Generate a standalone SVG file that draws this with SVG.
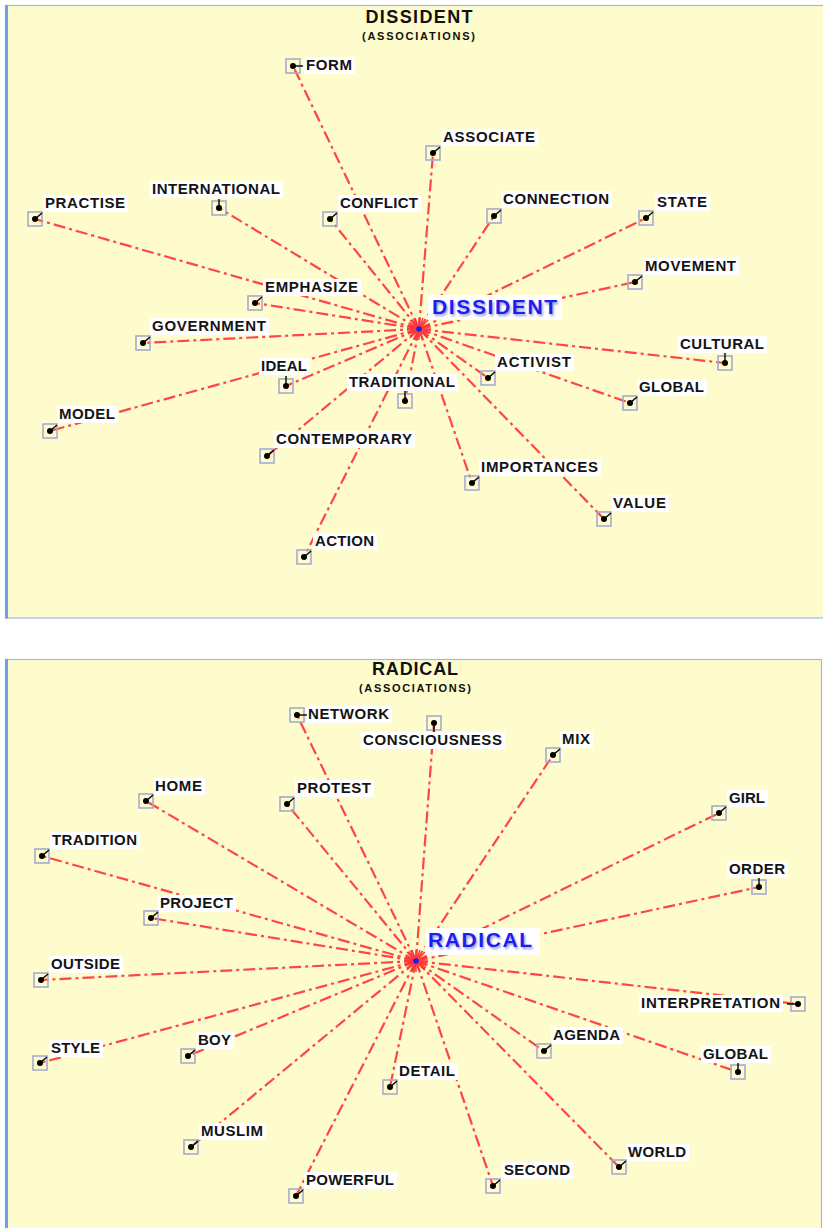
<svg xmlns="http://www.w3.org/2000/svg" width="823" height="1228" viewBox="0 0 823 1228">
<defs>
<style>
.panel{fill:#fefccc;stroke:#9dbbec;stroke-width:1.2}
.edge{stroke:#6f9fe6;stroke-width:3}
.ttl{font-family:"Liberation Sans",Arial,sans-serif;font-weight:bold;fill:#111;text-anchor:middle}
.lb{fill:#ffffff}
.tx{font-family:"Liberation Sans",Arial,sans-serif;font-weight:bold;font-size:15px;fill:#141414}
.sq{fill:none;stroke:#a4aad2;stroke-width:1.6}
.tk{stroke:#000;stroke-width:1.4}
.dt{fill:#000}
.cn line{stroke:#ff4545;stroke-width:2.2;stroke-dasharray:12 4 3 4;fill:none}
.ctx{font-family:"Liberation Sans",Arial,sans-serif;font-weight:bold;font-size:21px;fill:#1d1df2}
.csh{font-family:"Liberation Sans",Arial,sans-serif;font-weight:bold;font-size:21px;fill:#9aa0d8}
.spk line{stroke:#ff3030;stroke-width:1.4}
</style>
<filter id="bl" x="-10%" y="-30%" width="120%" height="160%"><feGaussianBlur stdDeviation="1.2"/></filter>
</defs>

<rect x="0" y="0" width="823" height="1228" fill="#ffffff"/>
<!-- panels -->
<rect class="panel" x="5.5" y="5.5" width="830" height="612.5"/>
<line class="edge" x1="6.5" y1="5" x2="6.5" y2="618.5"/>
<rect class="panel" x="5.5" y="659.5" width="816" height="580"/>
<line class="edge" x1="6.5" y1="659" x2="6.5" y2="1228"/>

<!-- titles -->
<g id="title-dissident">
<text class="ttl" x="419" y="23" font-size="18" textLength="107" lengthAdjust="spacing">DISSIDENT</text>
<text class="ttl" x="418.5" y="40" font-size="11" textLength="113" lengthAdjust="spacing">(ASSOCIATIONS)</text>
</g>
<g id="title-radical">
<text class="ttl" x="415" y="675" font-size="18" textLength="86" lengthAdjust="spacing">RADICAL</text>
<text class="ttl" x="415" y="692" font-size="11" textLength="112" lengthAdjust="spacing">(ASSOCIATIONS)</text>
</g>

<!-- connectors top -->
<g id="connectors-dissident" class="cn">
<line x1="419" y1="329" x2="293" y2="66"/>
<line x1="419" y1="329" x2="35" y2="219"/>
<line x1="419" y1="329" x2="219" y2="208"/>
<line x1="419" y1="329" x2="330" y2="219"/>
<line x1="419" y1="329" x2="255" y2="303"/>
<line x1="419" y1="329" x2="433" y2="153"/>
<line x1="419" y1="329" x2="494" y2="216"/>
<line x1="419" y1="329" x2="646" y2="218"/>
<line x1="419" y1="329" x2="635" y2="282"/>
<line x1="419" y1="329" x2="143" y2="343"/>
<line x1="419" y1="329" x2="286" y2="386"/>
<line x1="419" y1="329" x2="50" y2="431"/>
<line x1="419" y1="329" x2="405" y2="401"/>
<line x1="419" y1="329" x2="267" y2="456"/>
<line x1="419" y1="329" x2="304" y2="557"/>
<line x1="419" y1="329" x2="725" y2="363"/>
<line x1="419" y1="329" x2="488" y2="378"/>
<line x1="419" y1="329" x2="630" y2="403"/>
<line x1="419" y1="329" x2="472" y2="483"/>
<line x1="419" y1="329" x2="604" y2="519"/>
</g>

<!-- connectors bottom -->
<g id="connectors-radical" class="cn">
<line x1="416" y1="961" x2="297" y2="715"/>
<line x1="416" y1="961" x2="434" y2="723"/>
<line x1="416" y1="961" x2="146" y2="801"/>
<line x1="416" y1="961" x2="287" y2="804"/>
<line x1="416" y1="961" x2="42" y2="856"/>
<line x1="416" y1="961" x2="151" y2="918"/>
<line x1="416" y1="961" x2="553" y2="755"/>
<line x1="416" y1="961" x2="719" y2="813"/>
<line x1="416" y1="961" x2="759" y2="887"/>
<line x1="416" y1="961" x2="41" y2="980"/>
<line x1="416" y1="961" x2="40" y2="1063"/>
<line x1="416" y1="961" x2="188" y2="1056"/>
<line x1="416" y1="961" x2="191" y2="1147"/>
<line x1="416" y1="961" x2="296" y2="1196"/>
<line x1="416" y1="961" x2="390" y2="1087"/>
<line x1="416" y1="961" x2="798" y2="1004"/>
<line x1="416" y1="961" x2="544" y2="1051"/>
<line x1="416" y1="961" x2="738" y2="1072"/>
<line x1="416" y1="961" x2="619" y2="1167"/>
<line x1="416" y1="961" x2="493" y2="1186"/>
</g>

<!-- top nodes -->
<g id="n-form"><rect class="lb" x="304" y="57" width="51" height="17"/><text class="tx" x="306" y="70" textLength="46" lengthAdjust="spacing">FORM</text><rect class="sq" x="286" y="59" width="14" height="14"/><line class="tk" x1="293" y1="66" x2="303" y2="66"/><circle class="dt" cx="293" cy="66" r="3"/></g>
<g id="n-practise"><rect class="lb" x="43" y="195" width="85" height="17"/><text class="tx" x="45" y="208" textLength="80" lengthAdjust="spacing">PRACTISE</text><rect class="sq" x="28" y="212" width="14" height="14"/><line class="tk" x1="35" y1="219" x2="42" y2="213"/><circle class="dt" cx="35" cy="219" r="3"/></g>
<g id="n-international"><rect class="lb" x="150" y="181" width="133" height="17"/><text class="tx" x="152" y="194" textLength="128" lengthAdjust="spacing">INTERNATIONAL</text><rect class="sq" x="212" y="201" width="14" height="14"/><line class="tk" x1="219" y1="208" x2="219" y2="199"/><circle class="dt" cx="219" cy="208" r="3"/></g>
<g id="n-conflict"><rect class="lb" x="338" y="195" width="83" height="17"/><text class="tx" x="340" y="208" textLength="78" lengthAdjust="spacing">CONFLICT</text><rect class="sq" x="323" y="212" width="14" height="14"/><line class="tk" x1="330" y1="219" x2="337" y2="213"/><circle class="dt" cx="330" cy="219" r="3"/></g>
<g id="n-emphasize"><rect class="lb" x="263" y="279" width="98" height="17"/><text class="tx" x="265" y="292" textLength="93" lengthAdjust="spacing">EMPHASIZE</text><rect class="sq" x="248" y="296" width="14" height="14"/><line class="tk" x1="255" y1="303" x2="262" y2="297"/><circle class="dt" cx="255" cy="303" r="3"/></g>
<g id="n-associate"><rect class="lb" x="441" y="129" width="97" height="17"/><text class="tx" x="443" y="142" textLength="92" lengthAdjust="spacing">ASSOCIATE</text><rect class="sq" x="426" y="146" width="14" height="14"/><line class="tk" x1="433" y1="153" x2="440" y2="147"/><circle class="dt" cx="433" cy="153" r="3"/></g>
<g id="n-connection"><rect class="lb" x="501" y="191" width="111" height="17"/><text class="tx" x="503" y="204" textLength="106" lengthAdjust="spacing">CONNECTION</text><rect class="sq" x="487" y="209" width="14" height="14"/><line class="tk" x1="494" y1="216" x2="501" y2="210"/><circle class="dt" cx="494" cy="216" r="3"/></g>
<g id="n-state"><rect class="lb" x="655" y="194" width="55" height="17"/><text class="tx" x="657" y="207" textLength="50" lengthAdjust="spacing">STATE</text><rect class="sq" x="639" y="211" width="14" height="14"/><line class="tk" x1="646" y1="218" x2="653" y2="212"/><circle class="dt" cx="646" cy="218" r="3"/></g>
<g id="n-movement"><rect class="lb" x="643" y="258" width="96" height="17"/><text class="tx" x="645" y="271" textLength="91" lengthAdjust="spacing">MOVEMENT</text><rect class="sq" x="628" y="275" width="14" height="14"/><line class="tk" x1="635" y1="282" x2="642" y2="276"/><circle class="dt" cx="635" cy="282" r="3"/></g>
<g id="n-government"><rect class="lb" x="150" y="318" width="119" height="17"/><text class="tx" x="152" y="331" textLength="114" lengthAdjust="spacing">GOVERNMENT</text><rect class="sq" x="136" y="336" width="14" height="14"/><line class="tk" x1="143" y1="343" x2="150" y2="337"/><circle class="dt" cx="143" cy="343" r="3"/></g>
<g id="n-ideal"><rect class="lb" x="259" y="358" width="51" height="17"/><text class="tx" x="261" y="371" textLength="46" lengthAdjust="spacing">IDEAL</text><rect class="sq" x="279" y="379" width="14" height="14"/><line class="tk" x1="286" y1="386" x2="286" y2="376"/><circle class="dt" cx="286" cy="386" r="3"/></g>
<g id="n-model"><rect class="lb" x="57" y="406" width="61" height="17"/><text class="tx" x="59" y="419" textLength="56" lengthAdjust="spacing">MODEL</text><rect class="sq" x="43" y="424" width="14" height="14"/><line class="tk" x1="50" y1="431" x2="57" y2="425"/><circle class="dt" cx="50" cy="431" r="3"/></g>
<g id="n-traditional"><rect class="lb" x="347" y="374" width="111" height="17"/><text class="tx" x="349" y="387" textLength="106" lengthAdjust="spacing">TRADITIONAL</text><rect class="sq" x="398" y="394" width="14" height="14"/><line class="tk" x1="405" y1="401" x2="405" y2="391"/><circle class="dt" cx="405" cy="401" r="3"/></g>
<g id="n-contemporary"><rect class="lb" x="274" y="431" width="141" height="17"/><text class="tx" x="276" y="444" textLength="136" lengthAdjust="spacing">CONTEMPORARY</text><rect class="sq" x="260" y="449" width="14" height="14"/><line class="tk" x1="267" y1="456" x2="274" y2="450"/><circle class="dt" cx="267" cy="456" r="3"/></g>
<g id="n-action"><rect class="lb" x="313" y="533" width="64" height="17"/><text class="tx" x="315" y="546" textLength="59" lengthAdjust="spacing">ACTION</text><rect class="sq" x="297" y="550" width="14" height="14"/><line class="tk" x1="304" y1="557" x2="311" y2="551"/><circle class="dt" cx="304" cy="557" r="3"/></g>
<g id="n-cultural"><rect class="lb" x="678" y="336" width="89" height="17"/><text class="tx" x="680" y="349" textLength="84" lengthAdjust="spacing">CULTURAL</text><rect class="sq" x="718" y="356" width="14" height="14"/><line class="tk" x1="725" y1="363" x2="725" y2="353"/><circle class="dt" cx="725" cy="363" r="3"/></g>
<g id="n-activist"><rect class="lb" x="495" y="354" width="79" height="17"/><text class="tx" x="497" y="367" textLength="74" lengthAdjust="spacing">ACTIVIST</text><rect class="sq" x="481" y="371" width="14" height="14"/><line class="tk" x1="488" y1="378" x2="495" y2="372"/><circle class="dt" cx="488" cy="378" r="3"/></g>
<g id="n-global-d"><rect class="lb" x="637" y="379" width="70" height="17"/><text class="tx" x="639" y="392" textLength="65" lengthAdjust="spacing">GLOBAL</text><rect class="sq" x="623" y="396" width="14" height="14"/><line class="tk" x1="630" y1="403" x2="637" y2="397"/><circle class="dt" cx="630" cy="403" r="3"/></g>
<g id="n-importances"><rect class="lb" x="479" y="459" width="122" height="17"/><text class="tx" x="481" y="472" textLength="117" lengthAdjust="spacing">IMPORTANCES</text><rect class="sq" x="465" y="476" width="14" height="14"/><line class="tk" x1="472" y1="483" x2="479" y2="477"/><circle class="dt" cx="472" cy="483" r="3"/></g>
<g id="n-value"><rect class="lb" x="611" y="495" width="58" height="17"/><text class="tx" x="613" y="508" textLength="53" lengthAdjust="spacing">VALUE</text><rect class="sq" x="597" y="512" width="14" height="14"/><line class="tk" x1="604" y1="519" x2="611" y2="513"/><circle class="dt" cx="604" cy="519" r="3"/></g>

<!-- top center -->
<g id="center-dissident">
<g class="spk">
<line x1="407" y1="329" x2="431" y2="329"/><line x1="419" y1="318" x2="419" y2="340"/>
<line x1="410" y1="320" x2="428" y2="338"/><line x1="410" y1="338" x2="428" y2="320"/>
<line x1="408" y1="325" x2="430" y2="333"/><line x1="408" y1="333" x2="430" y2="325"/>
<line x1="415" y1="318" x2="423" y2="340"/><line x1="423" y1="318" x2="415" y2="340"/>
</g>
<circle cx="419" cy="329" r="5" fill="#ff3a3a"/>
<circle cx="419" cy="329" r="2.8" fill="#1d1df2"/>
<rect x="428" y="295" width="134" height="25" fill="#ffffff"/>
<text class="csh" x="433.5" y="315.5" textLength="125" lengthAdjust="spacing" filter="url(#bl)">DISSIDENT</text>
<text class="ctx" x="432" y="314" textLength="125" lengthAdjust="spacing">DISSIDENT</text>
</g>

<!-- bottom nodes -->
<g id="n-network"><rect class="lb" x="306" y="706" width="86" height="17"/><text class="tx" x="308" y="719" textLength="81" lengthAdjust="spacing">NETWORK</text><rect class="sq" x="290" y="708" width="14" height="14"/><line class="tk" x1="297" y1="715" x2="307" y2="715"/><circle class="dt" cx="297" cy="715" r="3"/></g>
<g id="n-consciousness"><rect class="lb" x="361" y="732" width="144" height="17"/><text class="tx" x="363" y="745" textLength="139" lengthAdjust="spacing">CONSCIOUSNESS</text><rect class="sq" x="427" y="716" width="14" height="14"/><line class="tk" x1="434" y1="723" x2="434" y2="732"/><circle class="dt" cx="434" cy="723" r="3"/></g>
<g id="n-home"><rect class="lb" x="153" y="778" width="52" height="17"/><text class="tx" x="155" y="791" textLength="47" lengthAdjust="spacing">HOME</text><rect class="sq" x="139" y="794" width="14" height="14"/><line class="tk" x1="146" y1="801" x2="153" y2="795"/><circle class="dt" cx="146" cy="801" r="3"/></g>
<g id="n-protest"><rect class="lb" x="295" y="780" width="79" height="17"/><text class="tx" x="297" y="793" textLength="74" lengthAdjust="spacing">PROTEST</text><rect class="sq" x="280" y="797" width="14" height="14"/><line class="tk" x1="287" y1="804" x2="294" y2="798"/><circle class="dt" cx="287" cy="804" r="3"/></g>
<g id="n-tradition"><rect class="lb" x="50" y="832" width="90" height="17"/><text class="tx" x="52" y="845" textLength="85" lengthAdjust="spacing">TRADITION</text><rect class="sq" x="35" y="849" width="14" height="14"/><line class="tk" x1="42" y1="856" x2="49" y2="850"/><circle class="dt" cx="42" cy="856" r="3"/></g>
<g id="n-project"><rect class="lb" x="158" y="895" width="78" height="17"/><text class="tx" x="160" y="908" textLength="73" lengthAdjust="spacing">PROJECT</text><rect class="sq" x="144" y="911" width="14" height="14"/><line class="tk" x1="151" y1="918" x2="158" y2="912"/><circle class="dt" cx="151" cy="918" r="3"/></g>
<g id="n-mix"><rect class="lb" x="560" y="731" width="33" height="17"/><text class="tx" x="562" y="744" textLength="28" lengthAdjust="spacing">MIX</text><rect class="sq" x="546" y="748" width="14" height="14"/><line class="tk" x1="553" y1="755" x2="560" y2="749"/><circle class="dt" cx="553" cy="755" r="3"/></g>
<g id="n-girl"><rect class="lb" x="727" y="790" width="41" height="17"/><text class="tx" x="729" y="803" textLength="36" lengthAdjust="spacing">GIRL</text><rect class="sq" x="712" y="806" width="14" height="14"/><line class="tk" x1="719" y1="813" x2="726" y2="807"/><circle class="dt" cx="719" cy="813" r="3"/></g>
<g id="n-order"><rect class="lb" x="727" y="861" width="61" height="17"/><text class="tx" x="729" y="874" textLength="56" lengthAdjust="spacing">ORDER</text><rect class="sq" x="752" y="880" width="14" height="14"/><line class="tk" x1="759" y1="887" x2="759" y2="878"/><circle class="dt" cx="759" cy="887" r="3"/></g>
<g id="n-outside"><rect class="lb" x="49" y="956" width="74" height="17"/><text class="tx" x="51" y="969" textLength="69" lengthAdjust="spacing">OUTSIDE</text><rect class="sq" x="34" y="973" width="14" height="14"/><line class="tk" x1="41" y1="980" x2="48" y2="974"/><circle class="dt" cx="41" cy="980" r="3"/></g>
<g id="n-style"><rect class="lb" x="49" y="1040" width="54" height="17"/><text class="tx" x="51" y="1053" textLength="49" lengthAdjust="spacing">STYLE</text><rect class="sq" x="33" y="1056" width="14" height="14"/><line class="tk" x1="40" y1="1063" x2="47" y2="1057"/><circle class="dt" cx="40" cy="1063" r="3"/></g>
<g id="n-boy"><rect class="lb" x="196" y="1032" width="38" height="17"/><text class="tx" x="198" y="1045" textLength="33" lengthAdjust="spacing">BOY</text><rect class="sq" x="181" y="1049" width="14" height="14"/><line class="tk" x1="188" y1="1056" x2="195" y2="1050"/><circle class="dt" cx="188" cy="1056" r="3"/></g>
<g id="n-muslim"><rect class="lb" x="199" y="1123" width="67" height="17"/><text class="tx" x="201" y="1136" textLength="62" lengthAdjust="spacing">MUSLIM</text><rect class="sq" x="184" y="1140" width="14" height="14"/><line class="tk" x1="191" y1="1147" x2="198" y2="1141"/><circle class="dt" cx="191" cy="1147" r="3"/></g>
<g id="n-powerful"><rect class="lb" x="304" y="1172" width="93" height="17"/><text class="tx" x="306" y="1185" textLength="88" lengthAdjust="spacing">POWERFUL</text><rect class="sq" x="289" y="1189" width="14" height="14"/><line class="tk" x1="296" y1="1196" x2="303" y2="1190"/><circle class="dt" cx="296" cy="1196" r="3"/></g>
<g id="n-detail"><rect class="lb" x="397" y="1063" width="61" height="17"/><text class="tx" x="399" y="1076" textLength="56" lengthAdjust="spacing">DETAIL</text><rect class="sq" x="383" y="1080" width="14" height="14"/><line class="tk" x1="390" y1="1087" x2="397" y2="1081"/><circle class="dt" cx="390" cy="1087" r="3"/></g>
<g id="n-interpretation"><rect class="lb" x="639" y="995" width="144" height="17"/><text class="tx" x="641" y="1008" textLength="139" lengthAdjust="spacing">INTERPRETATION</text><rect class="sq" x="791" y="997" width="14" height="14"/><line class="tk" x1="798" y1="1004" x2="787" y2="1004"/><circle class="dt" cx="798" cy="1004" r="3"/></g>
<g id="n-agenda"><rect class="lb" x="551" y="1027" width="72" height="17"/><text class="tx" x="553" y="1040" textLength="67" lengthAdjust="spacing">AGENDA</text><rect class="sq" x="537" y="1044" width="14" height="14"/><line class="tk" x1="544" y1="1051" x2="551" y2="1045"/><circle class="dt" cx="544" cy="1051" r="3"/></g>
<g id="n-global-r"><rect class="lb" x="701" y="1046" width="70" height="17"/><text class="tx" x="703" y="1059" textLength="65" lengthAdjust="spacing">GLOBAL</text><rect class="sq" x="731" y="1065" width="14" height="14"/><line class="tk" x1="738" y1="1072" x2="738" y2="1063"/><circle class="dt" cx="738" cy="1072" r="3"/></g>
<g id="n-world"><rect class="lb" x="626" y="1144" width="63" height="17"/><text class="tx" x="628" y="1157" textLength="58" lengthAdjust="spacing">WORLD</text><rect class="sq" x="612" y="1160" width="14" height="14"/><line class="tk" x1="619" y1="1167" x2="626" y2="1161"/><circle class="dt" cx="619" cy="1167" r="3"/></g>
<g id="n-second"><rect class="lb" x="502" y="1162" width="71" height="17"/><text class="tx" x="504" y="1175" textLength="66" lengthAdjust="spacing">SECOND</text><rect class="sq" x="486" y="1179" width="14" height="14"/><line class="tk" x1="493" y1="1186" x2="500" y2="1180"/><circle class="dt" cx="493" cy="1186" r="3"/></g>

<!-- bottom center -->
<g id="center-radical">
<g class="spk">
<line x1="404" y1="961" x2="428" y2="961"/><line x1="416" y1="950" x2="416" y2="972"/>
<line x1="407" y1="952" x2="425" y2="970"/><line x1="407" y1="970" x2="425" y2="952"/>
<line x1="405" y1="957" x2="427" y2="965"/><line x1="405" y1="965" x2="427" y2="957"/>
<line x1="412" y1="950" x2="420" y2="972"/><line x1="420" y1="950" x2="412" y2="972"/>
</g>
<circle cx="416" cy="961" r="5" fill="#ff3a3a"/>
<circle cx="416" cy="961" r="2.8" fill="#1d1df2"/>
<rect x="425" y="928" width="115" height="27" fill="#ffffff"/>
<text class="csh" x="429.5" y="948.5" textLength="104" lengthAdjust="spacing" filter="url(#bl)">RADICAL</text>
<text class="ctx" x="428" y="947" textLength="104" lengthAdjust="spacing">RADICAL</text>
</g>
</svg>
